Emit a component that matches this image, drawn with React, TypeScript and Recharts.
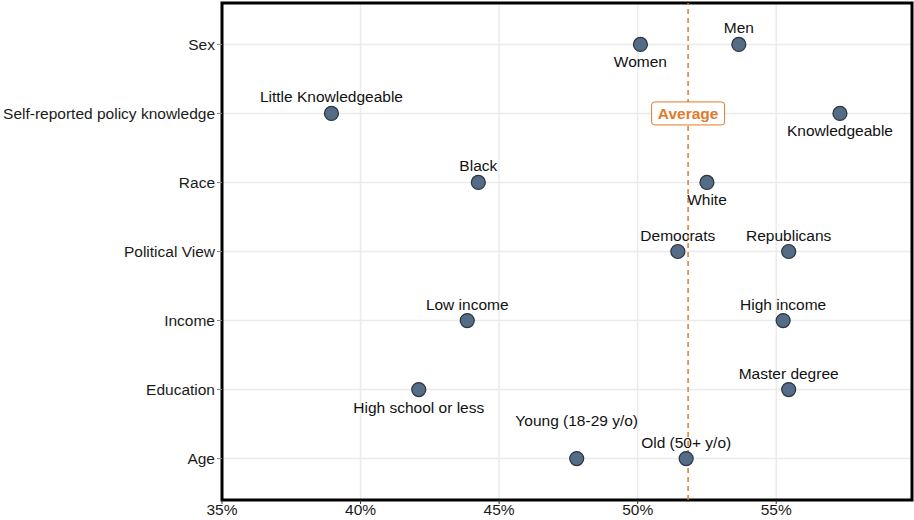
import React from 'react';
import {
    CartesianGrid,
    LabelList,
    ReferenceArea,
    ReferenceLine,
    Scatter,
    ScatterChart,
    XAxis,
    YAxis,
} from 'recharts';

// categories, top to bottom
const categories = [
    'Sex',
    'Self-reported policy knowledge',
    'Race',
    'Political View',
    'Income',
    'Education',
    'Age',
];

// one entry per point
const groupCategory = [
    'Sex', 'Sex',
    'Self-reported policy knowledge', 'Self-reported policy knowledge',
    'Race', 'Race',
    'Political View', 'Political View',
    'Income', 'Income',
    'Education', 'Education',
    'Age', 'Age',
];
const groupLabels = [
    'Women', 'Men',
    'Little Knowledgeable', 'Knowledgeable',
    'Black', 'White',
    'Democrats', 'Republicans',
    'Low income', 'High income',
    'High school or less', 'Master degree',
    'Young (18-29 y/o)', 'Old (50+ y/o)',
];
const groupValues = [
    50.1, 53.65,
    38.95, 57.3,
    44.25, 52.5,
    51.45, 55.45,
    43.85, 55.25,
    42.1, 55.45,
    47.8, 51.75,
];
const labelSide = [
    'below', 'above',
    'above', 'below',
    'above', 'below',
    'above', 'above',
    'above', 'above',
    'below', 'above',
    'far', 'above',
];

const averageValue = 51.82;
const xTicks = [35, 40, 45, 50, 55];
const xDomain = [35, 59.9];

const ORANGE = '#e07a2a';
const FONT = '"Liberation Sans", Arial, sans-serif';
const FS = 15.5;

const points = groupValues.map((v, i) => ({
    x: v,
    y: categories.indexOf(groupCategory[i]),
    name: groupLabels[i],
    side: labelSide[i],
}));

const averagePoint = [{ x: averageValue, y: categories.indexOf('Self-reported policy knowledge') }];

const sideOffset: Record<string, number> = { above: -11, below: 23, far: -32.5 };

const PointLabel = (props: any) => {
    const { x, y, width, height, index } = props;
    const p = points[index];
    const cx = x + width / 2;
    const cy = y + height / 2;
    return (
        <text
            x={cx}
            y={cy + sideOffset[p.side]}
            textAnchor="middle"
            fontSize={FS}
            fontFamily={FONT}
            fill="#111">
            {p.name}
        </text>
    );
};

const AverageBox = (props: any) => {
    const { cx, cy } = props;
    return (
        <g>
            <rect x={cx - 36.5} y={cy - 11.5} width={73} height={23} rx={3} fill="#fff" stroke={ORANGE} strokeWidth={1} />
            <text x={cx} y={cy + 5.5} textAnchor="middle" fontSize={FS} fontWeight="bold" fontFamily={FONT} fill={ORANGE}>
                Average
            </text>
        </g>
    );
};

const Dot = (props: any) => {
    const { cx, cy } = props;
    return <circle cx={cx} cy={cy} r={7} fill="#556c87" stroke="#2a3440" strokeWidth={1.2} />;
};

export default function App() {
    return (
        <div style={{ position: 'absolute', left: 0, top: 0, fontFamily: FONT }}>
            <ScatterChart
                width={914}
                height={520}
                margin={{ top: 3, right: 2, bottom: 0, left: 0 }}>
                <CartesianGrid stroke="#ebebeb" strokeWidth={1.5} />
                <XAxis
                    type="number"
                    dataKey="x"
                    domain={xDomain}
                    ticks={xTicks}
                    tickFormatter={(v) => `${v}%`}
                    height={20}
                    axisLine={false}
                    tickSize={4}
                    tickLine={{ stroke: '#333' }}
                    tick={{ fontSize: FS, fill: '#1a1a1a', fontFamily: FONT }}
                    tickMargin={0}
                    allowDataOverflow
                />
                <YAxis
                    type="number"
                    dataKey="y"
                    domain={[-0.6, 6.6]}
                    ticks={[0, 1, 2, 3, 4, 5, 6]}
                    tickFormatter={(v) => categories[v]}
                    reversed
                    width={222}
                    axisLine={false}
                    tickSize={5}
                    tickLine={{ stroke: '#888' }}
                    tick={{ fontSize: FS, fill: '#1a1a1a', fontFamily: FONT }}
                    tickMargin={2}
                    allowDataOverflow
                />
                <ReferenceLine x={averageValue} stroke={ORANGE} strokeWidth={1.5} strokeDasharray="5 4" />
                <Scatter data={averagePoint} shape={AverageBox} isAnimationActive={false} />
                <Scatter data={points} shape={Dot} isAnimationActive={false}>
                    <LabelList dataKey="name" content={PointLabel} />
                </Scatter>
                <ReferenceArea x1={xDomain[0]} x2={xDomain[1]} y1={-0.6} y2={6.6} fill="none" stroke="#000" strokeWidth={3} />
            </ScatterChart>
        </div>
    );
}
